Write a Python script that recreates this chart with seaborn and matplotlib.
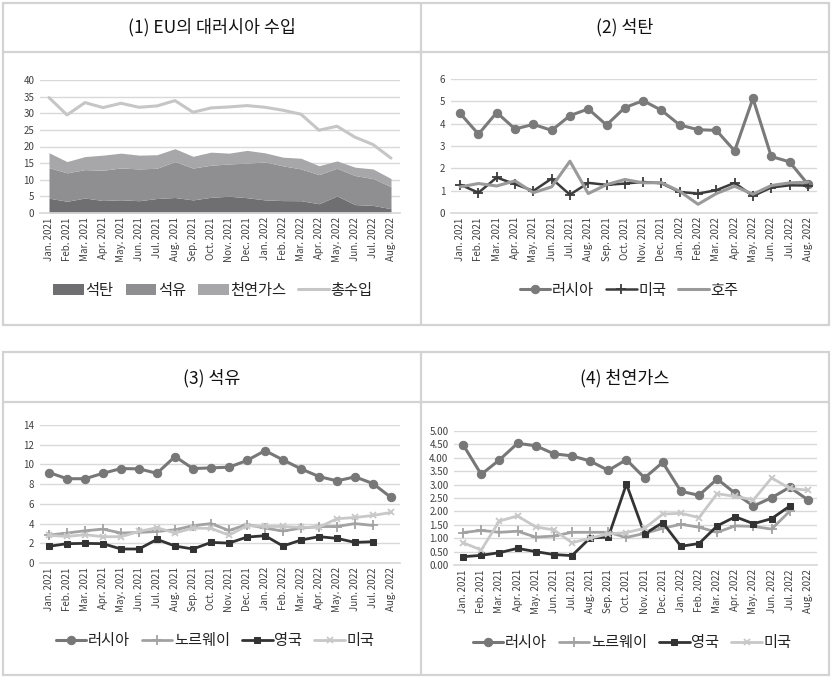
import numpy as np
import matplotlib
matplotlib.use('Agg')
import matplotlib.pyplot as plt
import seaborn as sns
from matplotlib.patches import Rectangle
from matplotlib.lines import Line2D

# ---- data -------------------------------------------------------------
months = ['Jan. 2021', 'Feb. 2021', 'Mar. 2021', 'Apr. 2021', 'May. 2021',
          'Jun. 2021', 'Jul. 2021', 'Aug. 2021', 'Sep. 2021', 'Oct. 2021',
          'Nov. 2021', 'Dec. 2021', 'Jan. 2022', 'Feb. 2022', 'Mar. 2022',
          'Apr. 2022', 'May. 2022', 'Jun. 2022', 'Jul. 2022', 'Aug. 2022']

total_import = [34.7, 29.5, 33.2, 31.7, 33.0, 31.8, 32.2, 33.8, 30.3, 31.6,
                31.9, 32.3, 31.8, 30.9, 29.7, 24.9, 26.1, 22.8, 20.6, 16.5]

coal_russia = [4.46, 3.53, 4.50, 3.76, 3.97, 3.70, 4.36, 4.66, 3.94, 4.72,
               5.03, 4.60, 3.94, 3.73, 3.70, 2.78, 5.13, 2.53, 2.29, 1.29]
coal_us = [1.27, 0.91, 1.59, 1.29, 0.99, 1.54, 0.82, 1.35, 1.26, 1.32,
           1.39, 1.33, 0.94, 0.87, 1.02, 1.35, 0.76, 1.14, 1.24, 1.23]
coal_australia = [1.17, 1.32, 1.21, 1.44, 0.91, 1.17, 2.32, 0.87, 1.27, 1.50,
                  1.35, 1.36, 0.97, 0.39, 0.87, 1.20, 0.84, 1.23, 1.35, 1.38]

oil_russia = [9.18, 8.55, 8.55, 9.10, 9.58, 9.55, 9.10, 10.80, 9.58, 9.65,
              9.72, 10.40, 11.40, 10.46, 9.55, 8.77, 8.33, 8.74, 8.06, 6.65]
oil_norway = [2.83, 3.04, 3.27, 3.44, 3.04, 3.10, 3.20, 3.37, 3.78, 4.00,
              3.30, 3.90, 3.54, 3.24, 3.54, 3.70, 3.70, 4.00, 3.81]
oil_uk = [1.69, 1.96, 1.99, 1.96, 1.42, 1.42, 2.40, 1.72, 1.42, 2.09,
          2.02, 2.63, 2.77, 1.72, 2.33, 2.67, 2.50, 2.09, 2.16]
oil_us = [2.80, 2.70, 2.87, 2.67, 2.67, 3.20, 3.58, 3.04, 3.54, 3.51,
          2.83, 3.78, 3.71, 3.71, 3.61, 3.64, 4.49, 4.62, 4.82, 5.13]

gas_russia = [4.49, 3.38, 3.92, 4.54, 4.45, 4.15, 4.07, 3.88, 3.53, 3.93,
              3.25, 3.83, 2.75, 2.60, 3.21, 2.67, 2.20, 2.51, 2.90, 2.43]
gas_norway = [1.21, 1.29, 1.22, 1.26, 1.04, 1.08, 1.22, 1.22, 1.22, 1.03,
              1.18, 1.37, 1.52, 1.41, 1.22, 1.46, 1.44, 1.34, 2.01]
gas_uk = [0.31, 0.36, 0.46, 0.62, 0.50, 0.39, 0.35, 1.01, 1.04, 3.02,
          1.16, 1.58, 0.70, 0.80, 1.46, 1.80, 1.54, 1.73, 2.20]
gas_us = [0.83, 0.56, 1.64, 1.83, 1.42, 1.31, 0.83, 1.00, 1.16, 1.21,
          1.37, 1.90, 1.93, 1.77, 2.66, 2.56, 2.43, 3.25, 2.86, 2.79]

titles = ['(1) EU의 대러시아 수입', '(2) 석탄', '(3) 석유', '(4) 천연가스']

# ---- style ------------------------------------------------------------
sns.set_theme(style='white')
plt.rcParams['font.family'] = ['Noto Sans CJK KR', 'DejaVu Sans']
plt.rcParams['axes.unicode_minus'] = False

W, H = 832, 677
fig = plt.figure(figsize=(W / 100, H / 100), dpi=100)
fig.patch.set_facecolor('white')

BOX = '#d3d3d3'
GRID = '#d9d9d9'
TICK = '#404040'


def px_axes(x0, y0, x1, y1):
    """Axes from pixel box (top-left origin)."""
    return fig.add_axes([x0 / W, 1 - y1 / H, (x1 - x0) / W, (y1 - y0) / H])


def draw_box(y0, y_title, y1):
    kw = dict(transform=fig.transFigure, color=BOX, linewidth=1.6)
    fig.add_artist(Rectangle((3 / W, 1 - y1 / H), 826 / W, (y1 - y0) / H,
                             fill=False, edgecolor=BOX, linewidth=1.6,
                             transform=fig.transFigure))
    fig.add_artist(Line2D([3 / W, 829 / W], [1 - y_title / H] * 2, **kw))
    fig.add_artist(Line2D([421 / W] * 2, [1 - y0 / H, 1 - y1 / H], **kw))


draw_box(3, 52, 325)
draw_box(352, 402, 675)

title_pos = [(212, 27), (625, 27), (212, 378), (625, 378)]
for t, (tx, ty) in zip(titles, title_pos):
    fig.text(tx / W, 1 - ty / H, t, ha='center', va='center',
             fontsize=12.5, color='#111111')

x = np.arange(len(months))


def line(ax, xs, ys, color, lw, label, **kw):
    # seaborn paints marker edges white by default; keep them in line colour
    sns.lineplot(x=xs, y=ys, ax=ax, color=color, linewidth=lw, label=label,
                 linestyle='-', markeredgecolor=color, **kw)


def style_axes(ax, ymax, step, fmt='{:.0f}'):
    ax.set_xlim(-0.5, len(months) - 0.5)
    ax.set_ylim(0, ymax)
    ticks = np.arange(0, ymax + step / 2, step)
    ax.set_yticks(ticks)
    ax.set_yticklabels([fmt.format(v) for v in ticks], fontsize=7, color=TICK)
    ax.set_xticks(x)
    ax.set_xticklabels(months, rotation=90, fontsize=7, color=TICK)
    ax.set_xticks(np.arange(-0.5, len(months)), minor=True)
    ax.tick_params(axis='x', which='major', length=0, pad=3)
    ax.tick_params(axis='x', which='minor', length=4, color=GRID, width=1)
    ax.tick_params(axis='y', length=0, pad=4)
    ax.grid(True, axis='y', color=GRID, linewidth=1)
    ax.set_axisbelow(True)
    for s in ['top', 'right', 'left']:
        ax.spines[s].set_visible(False)
    ax.spines['bottom'].set_color(GRID)
    ax.set_xlabel('')
    ax.set_ylabel('')


def add_legend(ax, cx, cy, ncol):
    ax.legend(loc='center', bbox_to_anchor=(cx / W, 1 - cy / H),
              bbox_transform=fig.transFigure, ncol=ncol, frameon=False,
              fontsize=11, handlelength=2.0, handletextpad=0.1,
              columnspacing=0.8, labelcolor='#222222')


# ---- panel 1: stacked area + total line ---------------------------------
ax1 = px_axes(40, 80, 400, 213)
ax1.stackplot(x, coal_russia, oil_russia, gas_russia,
              colors=['#6f6f71', '#8f8f91', '#a7a7a9'],
              labels=['석탄', '석유', '천연가스'], linewidth=0)
line(ax1, x, total_import, '#c6c6c6', 2.2, '총수입')
style_axes(ax1, 40, 5)
add_legend(ax1, 213, 290, 4)

# ---- panel 2: coal ------------------------------------------------------
ax2 = px_axes(451, 79, 817, 213)
line(ax2, x, coal_russia, '#7a7a7a', 2.2, '러시아',
     marker='o', markersize=6)
line(ax2, x, coal_us, '#3c3c3c', 1.8, '미국',
     marker='+', markersize=7, markeredgewidth=1.3)
line(ax2, x, coal_australia, '#9a9a9a', 2.2, '호주')
style_axes(ax2, 6, 1)
add_legend(ax2, 629, 290, 3)

# ---- panel 3: oil -------------------------------------------------------
ax3 = px_axes(40, 425, 400, 563)
line(ax3, x, oil_russia, '#777777', 2.2, '러시아',
     marker='o', markersize=6)
line(ax3, x[:len(oil_norway)], oil_norway, '#a2a2a2', 2.0, '노르웨이',
     marker='+', markersize=7, markeredgewidth=1.3)
line(ax3, x[:len(oil_uk)], oil_uk, '#333333', 2.0, '영국',
     marker='s', markersize=4.5)
line(ax3, x, oil_us, '#c8c8c8', 2.0, '미국',
     marker='x', markersize=5, markeredgewidth=1.3)
style_axes(ax3, 14, 2)
add_legend(ax3, 215, 641, 4)

# ---- panel 4: natural gas ---------------------------------------------
ax4 = px_axes(454, 431, 817, 565)
line(ax4, x, gas_russia, '#777777', 2.2, '러시아',
     marker='o', markersize=6)
line(ax4, x[:len(gas_norway)], gas_norway, '#a2a2a2', 2.0, '노르웨이',
     marker='+', markersize=7, markeredgewidth=1.3)
line(ax4, x[:len(gas_uk)], gas_uk, '#333333', 2.0, '영국',
     marker='s', markersize=4.5)
line(ax4, x, gas_us, '#c8c8c8', 2.0, '미국',
     marker='x', markersize=5, markeredgewidth=1.3)
style_axes(ax4, 5, 0.5, fmt='{:.2f}')
add_legend(ax4, 632, 643, 4)

fig.savefig('out.png', dpi=100, facecolor='white')
